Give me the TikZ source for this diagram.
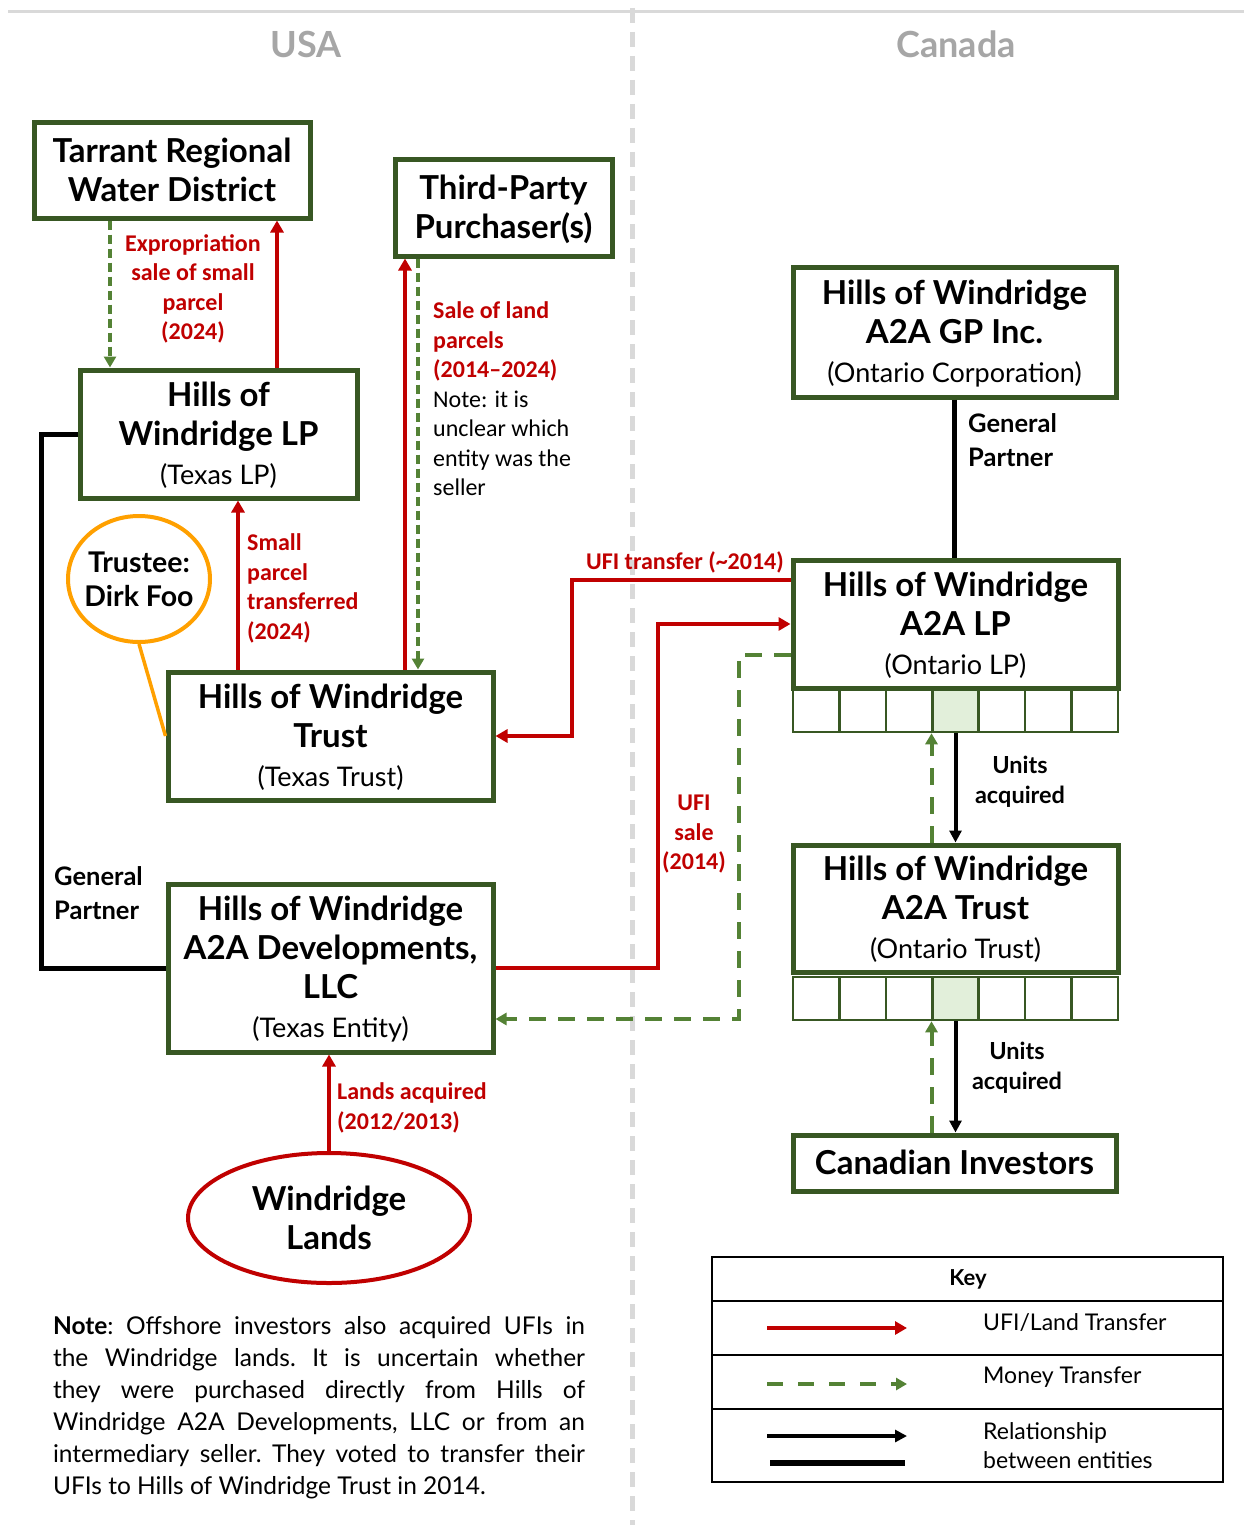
\documentclass[tikz,border=0pt]{standalone}
\usepackage{fontspec}
\setmainfont{Lato}
\newfontfamily\calfont{Carlito}
\usetikzlibrary{positioning, arrows.meta, shapes.geometric, calc}
\definecolor{boxgreen}{HTML}{385723}
\definecolor{moneygreen}{HTML}{548235}
\definecolor{ufired}{HTML}{C00000}
\definecolor{unitfill}{HTML}{E2EFDA}
\definecolor{divgray}{HTML}{D9D9D9}
\definecolor{hdgray}{HTML}{A6A6A6}
\definecolor{trustorange}{HTML}{FFA000}
\newcommand{\hdfnt}{\fontsize{33}{39}\selectfont\bfseries}
\newcommand{\subfnt}{\fontsize{27}{38}\selectfont\mdseries}

\begin{document}
\begin{tikzpicture}[
  x=1pt, y=-1pt,
  ent/.style={draw=boxgreen, line width=5pt, fill=white, align=center, inner sep=0pt,
              font=\hdfnt, text depth=2pt},
  cell/.style={draw=boxgreen, line width=2.5pt, fill=white, minimum width=46.43pt,
               minimum height=42pt, inner sep=0pt},
  rlab/.style={font=\calfont\fontsize{24}{29.5}\selectfont\bfseries, text=ufired, inner sep=0pt},
  blab/.style={font=\fontsize{25.5}{34}\selectfont\bfseries, inner sep=0pt, align=left},
  ulab/.style={font=\fontsize{23.5}{30}\selectfont\bfseries, inner sep=0pt, align=center},
  keytxt/.style={font=\fontsize{23}{29}\selectfont, inner sep=0pt, anchor=west, align=left},
  ufi/.style={draw=ufired, line width=4pt, -{Triangle[length=12pt,width=13pt]}},
  money/.style={draw=moneygreen, line width=4pt, dash pattern=on 17pt off 12pt,
                -{Triangle[length=11pt,width=12pt]}},
  moneyfine/.style={draw=moneygreen, line width=3.5pt, dash pattern=on 9pt off 5pt,
                -{Triangle[length=11pt,width=12pt]}},
  rel/.style={draw=black, line width=4pt, -{Triangle[length=12pt,width=12pt]}},
  gp/.style={draw=black, line width=5pt},
]
\useasboundingbox (0,0) rectangle (1244,1525);

% ===================== dividers =====================
\draw[divgray, line width=3pt] (8,12) -- (1244,12);
\draw[divgray, line width=5pt, dash pattern=on 15pt off 9pt] (632,8) -- (632,1525);
\node[font=\fontsize{36}{40}\selectfont\bfseries, text=hdgray] (usa) at (306,44) {USA};
\node[font=\fontsize{36}{40}\selectfont\bfseries, text=hdgray] (can) at (956,44) {Canada};

% ===================== USA entities =====================
\node[ent, minimum width=276, minimum height=95] (trwd) at (172,170.5)
  {Tarrant Regional\\Water District};
\node[ent, minimum width=217, minimum height=96] (tpp) at (503.5,208)
  {Third-Party\\Purchaser(s)};
\node[ent, minimum width=277, minimum height=128] (hwlp) at (218.5,434)
  {Hills of\\Windridge LP\\\subfnt (Texas LP)};
\node[ent, minimum width=325, minimum height=128] (hwt) at (330.5,736)
  {Hills of Windridge\\Trust\\\subfnt (Texas Trust)};
\node[ent, minimum width=325, minimum height=168] (dev) at (330.5,968)
  {Hills of Windridge\\A2A Developments,\\LLC\\\subfnt (Texas Entity)};
\node[ellipse, draw=trustorange, line width=4pt, fill=white, minimum width=142,
      minimum height=126, inner xsep=-14pt, inner ysep=-10pt, align=center,
      font=\fontsize{28.5}{34}\selectfont\bfseries] (trustee) at (139,579) {Trustee:\\Dirk Foo};
\node[ellipse, draw=ufired, line width=4pt, fill=white, minimum width=282,
      minimum height=130, inner sep=0pt, align=center, font=\hdfnt] (lands) at (329,1218)
  {Windridge\\Lands};

% ===================== Canada entities =====================
\node[ent, minimum width=323, minimum height=130] (gpinc) at (954.5,332)
  {Hills of Windridge\\A2A GP Inc.\\\subfnt (Ontario Corporation)};
\node[ent, minimum width=325, minimum height=128] (a2alp) at (955.5,624)
  {Hills of Windridge\\A2A LP\\\subfnt (Ontario LP)};
\node[ent, minimum width=325, minimum height=127] (a2at) at (955.5,908.5)
  {Hills of Windridge\\A2A Trust\\\subfnt (Ontario Trust)};
\node[ent, minimum width=323, minimum height=56] (cdn) at (954.5,1163)
  {Canadian Investors};

% units
\foreach \i in {0,...,6}{
  \ifnum\i=3
    \node[cell, fill=unitfill] (lpc\i) at ({793+46.43*(\i+0.5)},711) {};
    \node[cell, fill=unitfill, minimum height=43] (tc\i) at ({793+46.43*(\i+0.5)},998.5) {};
  \else
    \node[cell] (lpc\i) at ({793+46.43*(\i+0.5)},711) {};
    \node[cell, minimum height=43] (tc\i) at ({793+46.43*(\i+0.5)},998.5) {};
  \fi
}

% ===================== connectors =====================
\draw[moneyfine] ([xshift=-108.5]hwlp.north |- trwd.south) -- ([xshift=-108.5]hwlp.north);
\draw[ufi] ([xshift=58.5]hwlp.north) -- ([xshift=58.5]hwlp.north |- trwd.south);
\draw[ufi] ([xshift=-92.5]hwt.north) -- ([xshift=-92.5]hwt.north |- hwlp.south);
\draw[ufi] ([xshift=74.5]hwt.north) -- ([xshift=74.5]hwt.north |- tpp.south);
\draw[moneyfine] ([xshift=87.5]hwt.north |- tpp.south) -- ([xshift=87.5]hwt.north);
\draw[trustorange, line width=3.5pt] (trustee.south) -- (hwt.west);
\draw[ufi] (lands.north) -- (lands.north |- dev.south);
\draw[gp] (hwlp.west) -- ++(-36,0) |- (dev.west);
\draw[gp] (gpinc.south) -- (gpinc.south |- a2alp.north);
\draw[ufi] ([yshift=44]a2alp.west) -- ++(-219,0) |- (hwt.east);
\draw[ufi] (dev.east) -- ++(162,0) |- (a2alp.west);
\draw[money] ([yshift=-31]a2alp.west) -- ++(-52,0) |- ([yshift=-51]dev.east);
\draw[rel] (lpc3.south) -- (lpc3.south |- a2at.north);
\draw[money] ([xshift=-24]lpc3.south |- a2at.north) -- ([xshift=-24]lpc3.south);
\draw[rel] (tc3.south) -- (tc3.south |- cdn.north);
\draw[money] ([xshift=-24]tc3.south |- cdn.north) -- ([xshift=-24]tc3.south);

% ===================== labels =====================
\node[rlab, align=center] (lexp) at (193,289) {Expropriation\\sale of small\\parcel\\(2024)};
\node[rlab, align=left, anchor=west] (lsmall) at (247,588.5) {Small\\parcel\\transferred\\(2024)};
\node[rlab, align=left, anchor=west] (lsale) at (433,399)
  {Sale of land\\parcels\\(2014–2024)\\\mdseries\color{black}Note: it is\\\mdseries\color{black}unclear which\\\mdseries\color{black}entity was the\\\mdseries\color{black}seller};
\node[rlab] (lufit) at (685,562) {UFI transfer (\textasciitilde2014)};
\node[rlab, align=center] (lufis) at (694,834.5) {UFI\\sale\\(2014)};
\node[rlab, align=left, anchor=west] (lland) at (337,1108) {Lands acquired\\(2012/2013)};
\node[blab, anchor=west] (lgp1) at (968,440) {General\\Partner};
\node[blab, anchor=west] (lgp2) at (54,893) {General\\Partner};
\node[ulab] (lun1) at (1020,782) {Units\\acquired};
\node[ulab] (lun2) at (1017,1068) {Units\\acquired};

% ===================== note =====================
\node[text width=532, align=justify, inner sep=0pt,
      font=\fontsize{24.5}{32}\selectfont\frenchspacing] (note) at (319,1408)
  {\textbf{Note}: Offshore investors also acquired UFIs in\linebreak
   the Windridge lands. It is uncertain whether\linebreak
   they were purchased directly from Hills of\linebreak
   Windridge A2A Developments, LLC or from an\linebreak
   intermediary seller. They voted to transfer their\linebreak
   UFIs to Hills of Windridge Trust in 2014.};

% ===================== key =====================
\draw[black, line width=2pt] (712,1257) rectangle (1223,1482);
\draw[black, line width=2pt] (712,1301) -- (1223,1301);
\draw[black, line width=2pt] (712,1355) -- (1223,1355);
\draw[black, line width=2pt] (712,1409) -- (1223,1409);
\node[font=\fontsize{22}{26}\selectfont\bfseries, inner sep=0pt] (keyhd) at (968,1279) {Key};
\coordinate (k1a) at (767,1328); \coordinate (k1b) at (907,1328);
\coordinate (k2a) at (767,1384); \coordinate (k2b) at (907,1384);
\coordinate (k3a) at (767,1436); \coordinate (k3b) at (907,1436);
\coordinate (k4a) at (770,1463); \coordinate (k4b) at (905,1463);
\draw[ufi] (k1a) -- (k1b);
\draw[money, dash pattern=on 16pt off 15pt] (k2a) -- (k2b);
\draw[rel] (k3a) -- (k3b);
\draw[black, line width=6pt] (k4a) -- (k4b);
\node[keytxt] (kt1) at (983,1323) {UFI/Land Transfer};
\node[keytxt] (kt2) at (983,1377) {Money Transfer};
\node[keytxt] (kt3) at (983,1446) {Relationship\\between entities};
\end{tikzpicture}
\end{document}
